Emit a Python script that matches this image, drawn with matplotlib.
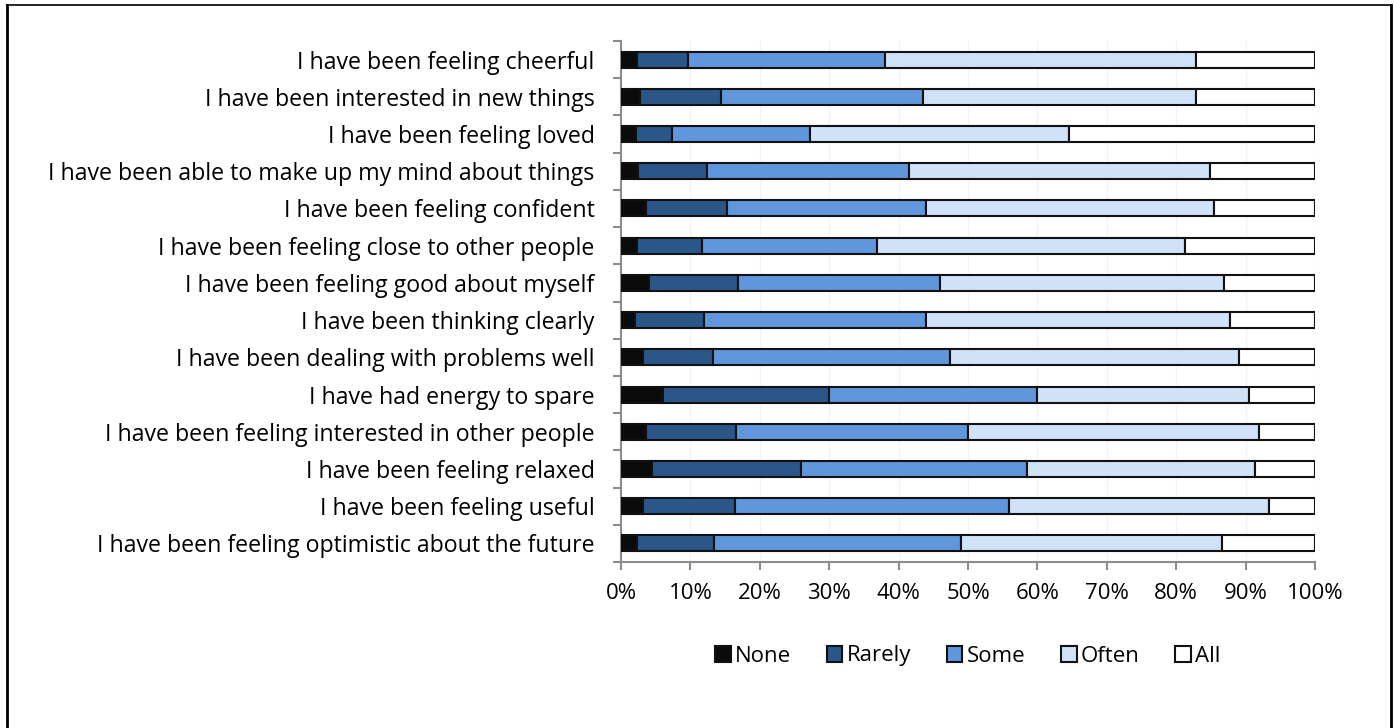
import matplotlib
matplotlib.use("Agg")
import matplotlib.pyplot as plt
from matplotlib.lines import Line2D
from matplotlib.ticker import FuncFormatter
import numpy as np

plt.rcParams['font.family'] = ['Open Sans', 'DejaVu Sans']

# statements, top to bottom
statements = [
    "I have been feeling cheerful",
    "I have been interested in new things",
    "I have been feeling loved",
    "I have been able to make up my mind about things",
    "I have been feeling confident",
    "I have been feeling close to other people",
    "I have been feeling good about myself",
    "I have been thinking clearly",
    "I have been dealing with problems well",
    "I have had energy to spare",
    "I have been feeling interested in other people",
    "I have been feeling relaxed",
    "I have been feeling useful",
    "I have been feeling optimistic about the future",
]

# share of answers (%) per response, same order as statements
none_pct   = [2.3, 2.7, 2.1, 2.4, 3.6, 2.3, 4.0, 2.0, 3.1, 6.1, 3.6, 4.5, 3.1, 2.3]
rarely_pct = [7.4, 11.7, 5.3, 10.0, 11.7, 9.4, 12.9, 9.9, 10.1, 23.9, 13.0, 21.4, 13.3, 11.1]
some_pct   = [28.4, 29.1, 19.8, 29.1, 28.7, 25.2, 29.1, 32.0, 34.2, 29.9, 33.4, 32.6, 39.5, 35.6]
often_pct  = [44.7, 39.4, 37.4, 43.3, 41.4, 44.4, 40.9, 43.8, 41.6, 30.6, 41.9, 32.8, 37.5, 37.6]
all_pct    = [17.2, 17.1, 35.4, 15.2, 14.6, 18.7, 13.1, 12.3, 11.0, 9.5, 8.1, 8.7, 6.6, 13.4]

responses = ["None", "Rarely", "Some", "Often", "All"]
colors = ["#0b0b0b", "#2b5689", "#5f96dc", "#d0e2f8", "#ffffff"]

series = [none_pct, rarely_pct, some_pct, often_pct, all_pct]

FS = 16

fig = plt.figure(figsize=(13.94, 7.28), dpi=100)
ax = fig.add_axes([621 / 1394, 1 - 562 / 728, 694 / 1394, 521 / 728])

y = np.arange(len(statements))
left = np.zeros(len(statements))
for name, vals, col in zip(responses, series, colors):
    vals = np.array(vals)
    ax.barh(y, vals, left=left, height=0.43, color=col, edgecolor="#111111",
            linewidth=1.5, label=name, zorder=3)
    left += vals

ax.set_xlim(0, 100)
ax.set_ylim(len(statements) - 0.5, -0.5)
ax.set_xticks(np.arange(0, 101, 10))
ax.xaxis.set_major_formatter(FuncFormatter(lambda v, p: f"{v:.0f}%"))
ax.set_yticks(y)
ax.set_yticklabels(statements, fontsize=16.7)
ax.tick_params(axis="x", labelsize=FS, length=6, width=1.5, color="#8c8c8c", pad=9)
ax.tick_params(axis="y", length=0, pad=19)
# category separators on the y axis
ax.set_yticks(np.arange(-0.5, len(statements)), minor=True)
ax.tick_params(axis="y", which="minor", length=6, width=1.5, color="#8c8c8c")
ax.grid(axis="x", color="#f3f3f3", linewidth=1, zorder=0)

for side in ("top", "right"):
    ax.spines[side].set_visible(False)
for side in ("left", "bottom"):
    ax.spines[side].set_color("#8c8c8c")
    ax.spines[side].set_linewidth(1.5)

ax.legend(loc="center", bbox_to_anchor=(968 / 1394, 1 - 656 / 728),
          bbox_transform=fig.transFigure, ncol=5, frameon=False, fontsize=FS,
          handlelength=0.7, handleheight=0.7, handletextpad=0.2,
          columnspacing=1.6)

# outer frame (left, top, right)
fig.add_artist(Line2D([7 / 1394, 7 / 1394], [0, 1 - 5 / 728], color="black", linewidth=2))
fig.add_artist(Line2D([7 / 1394, 1391 / 1394], [1 - 5 / 728, 1 - 5 / 728], color="black", linewidth=1.2))
fig.add_artist(Line2D([1391 / 1394, 1391 / 1394], [0, 1 - 5 / 728], color="black", linewidth=2))

fig.savefig("out.png", dpi=100)
